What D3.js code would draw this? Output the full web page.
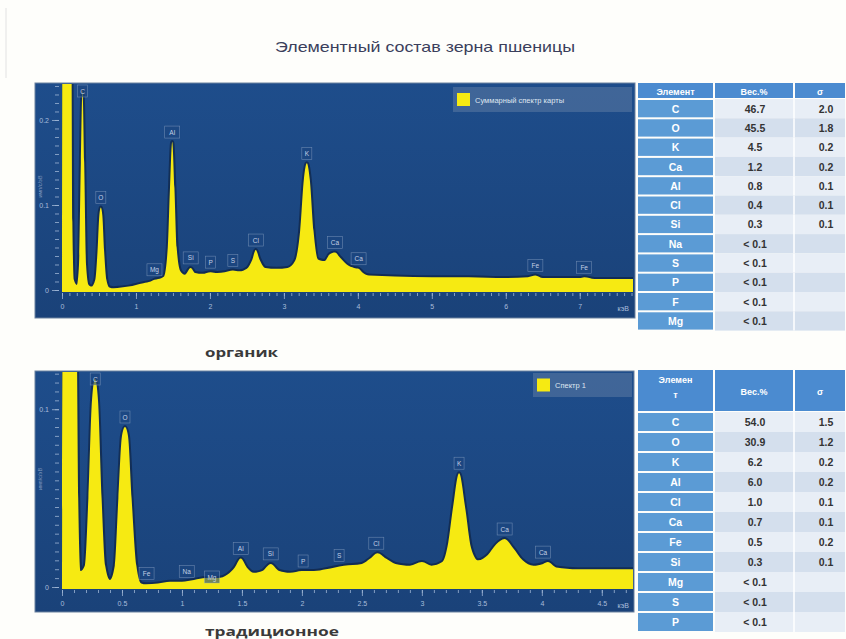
<!DOCTYPE html>
<html><head><meta charset="utf-8">
<script src="https://cdn.jsdelivr.net/npm/d3@7"></script>
<style>
html,body{margin:0;padding:0;background:#fefefb;}
svg{display:block;}
</style></head>
<body><svg id="c" width="846" height="639"></svg>
<script>
// ---------- DATA ----------
const chartTitle = "Элементный состав зерна пшеницы";
const panelCaptions = ["органик", "традиционное"];
const legendNames = ["Суммарный спектр карты", "Спектр 1"];
const axisUnit = "кэВ";
const yAxisName = "имп/с/эВ";

// organic spectrum: [energy keV, intensity]
const organicSpectrum = [
 [0.00,0],[0.005,0.30],[0.125,0.30],[0.14,0.08],[0.16,0.012],[0.20,0.006],[0.23,0.03],[0.255,0.15],[0.277,0.235],
 [0.30,0.15],[0.325,0.03],[0.36,0.006],[0.40,0.004],[0.45,0.012],[0.48,0.045],[0.505,0.088],[0.525,0.097],
 [0.545,0.088],[0.57,0.045],[0.60,0.012],[0.64,0.003],[0.70,0.002],[0.80,0.003],[0.90,0.004],[1.00,0.006],
 [1.10,0.008],[1.20,0.010],[1.25,0.012],[1.30,0.013],[1.38,0.016],[1.43,0.05],[1.46,0.12],[1.49,0.174],
 [1.52,0.12],[1.55,0.05],[1.60,0.022],[1.66,0.018],[1.74,0.026],[1.80,0.020],[1.90,0.019],[2.01,0.021],
 [2.10,0.020],[2.20,0.021],[2.31,0.023],[2.40,0.022],[2.50,0.025],[2.57,0.035],[2.62,0.047],[2.67,0.036],
 [2.75,0.026],[2.90,0.025],[3.05,0.026],[3.15,0.034],[3.22,0.07],[3.27,0.13],[3.31,0.149],[3.35,0.13],
 [3.40,0.07],[3.46,0.036],[3.55,0.034],[3.62,0.042],[3.69,0.044],[3.76,0.038],[3.85,0.030],[3.95,0.026],
 [4.01,0.025],[4.07,0.020],[4.15,0.017],[4.50,0.016],[5.00,0.015],[5.50,0.015],[6.00,0.014],[6.30,0.015],
 [6.40,0.017],[6.50,0.014],[7.00,0.014],[7.06,0.015],[7.20,0.013],[7.72,0.013]
];
const organicLabels = ["C","O","Mg","Al","Si","P","S","Cl","K","Ca","Ca","Fe","Fe"];
const organicLabelEnergies = [0.277,0.525,1.25,1.49,1.74,2.01,2.31,2.62,3.31,3.69,4.01,6.40,7.06];
const organicXTicks = [0,1,2,3,4,5,6,7];
const organicYTicks = [0,0.1,0.2];

// traditional spectrum
const traditionalSpectrum = [
 [0.00,0],[0.005,0.15],[0.12,0.15],[0.135,0.05],[0.155,0.009],[0.19,0.012],[0.22,0.05],[0.25,0.105],[0.275,0.117],
 [0.30,0.105],[0.33,0.05],[0.36,0.012],[0.40,0.004],[0.44,0.012],[0.47,0.05],[0.50,0.085],[0.525,0.090],
 [0.55,0.085],[0.58,0.05],[0.62,0.012],[0.66,0.002],[0.70,0.0015],[0.80,0.002],[0.90,0.003],[1.00,0.003],
 [1.10,0.004],[1.20,0.005],[1.30,0.005],[1.38,0.007],[1.44,0.011],[1.49,0.016],[1.54,0.011],[1.60,0.008],
 [1.67,0.009],[1.74,0.013],[1.81,0.009],[1.90,0.008],[2.00,0.009],[2.10,0.009],[2.20,0.010],[2.35,0.012],
 [2.50,0.013],[2.57,0.016],[2.63,0.019],[2.70,0.016],[2.78,0.013],[2.90,0.012],[3.00,0.014],[3.08,0.012],
 [3.17,0.014],[3.22,0.025],[3.26,0.045],[3.31,0.064],[3.36,0.045],[3.41,0.022],[3.47,0.015],[3.55,0.018],
 [3.62,0.024],[3.69,0.027],[3.76,0.022],[3.84,0.015],[3.93,0.012],[4.01,0.013],[4.05,0.014],[4.12,0.011],
 [4.30,0.010],[4.50,0.010],[4.76,0.010]
];
const traditionalLabels = ["C","O","Fe","Na","Mg","Al","Si","P","S","Cl","K","Ca","Ca"];
const traditionalLabelEnergies = [0.277,0.525,0.705,1.04,1.25,1.49,1.74,2.01,2.31,2.62,3.31,3.69,4.01];
const traditionalXTicks = [0,0.5,1,1.5,2,2.5,3,3.5,4,4.5];
const traditionalYTicks = [0,0.1];

// tables
const tableHeaders = ["Элемент","Вес.%","σ"];
const organicElements = ["C","O","K","Ca","Al","Cl","Si","Na","S","P","F","Mg"];
const organicWeights = ["46.7","45.5","4.5","1.2","0.8","0.4","0.3","< 0.1","< 0.1","< 0.1","< 0.1","< 0.1"];
const organicSigma = ["2.0","1.8","0.2","0.2","0.1","0.1","0.1","","","","",""];
const traditionalElements = ["C","O","K","Al","Cl","Ca","Fe","Si","Mg","S","P"];
const traditionalWeights = ["54.0","30.9","6.2","6.0","1.0","0.7","0.5","0.3","< 0.1","< 0.1","< 0.1"];
const traditionalSigma = ["1.5","1.2","0.2","0.2","0.1","0.1","0.2","0.1","","",""];

// ---------- DRAW ----------
const svg = d3.select("#c");
const defs = svg.append("defs");

svg.append("line").attr("x1",6).attr("x2",6).attr("y1",8).attr("y2",78)
  .attr("stroke","#e2e2e2").attr("stroke-width",1);

svg.append("text").attr("x",425).attr("y",52).attr("text-anchor","middle")
  .attr("font-family","'Liberation Sans Narrow','Liberation Sans',Arial,sans-serif")
  .attr("font-size",14.5).attr("fill","#3b3f5c")
  .attr("textLength",300).attr("lengthAdjust","spacingAndGlyphs").text(chartTitle);

const bgGrad = defs.append("linearGradient").attr("id","bg").attr("x1",0).attr("x2",0).attr("y1",0).attr("y2",1);
bgGrad.append("stop").attr("offset","0%").attr("stop-color","#1e4d8b");
bgGrad.append("stop").attr("offset","100%").attr("stop-color","#1a4279");

function drawPanel(cfg, idx){
  const g = svg.append("g");
  g.append("rect").attr("x",cfg.left).attr("y",cfg.top).attr("width",cfg.right-cfg.left).attr("height",cfg.bottom-cfg.top)
    .attr("fill","url(#bg)").attr("stroke","#6b819f").attr("stroke-width",1);
  const x = d3.scaleLinear().domain(cfg.xDomain).range([cfg.x0, cfg.x1]);
  const y = d3.scaleLinear().domain(cfg.yDomain).range([cfg.y0, cfg.top]);
  const clipId = "clip"+idx;
  defs.append("clipPath").attr("id",clipId).append("rect")
    .attr("x",cfg.x0).attr("y",cfg.top+1).attr("width",cfg.x1-cfg.x0).attr("height",cfg.y0+2-cfg.top-1);
  const area = d3.area().x(d=>x(d[0])).y0(cfg.y0+2).y1(d=>y(d[1])).curve(d3.curveMonotoneX);
  const line = d3.line().x(d=>x(d[0])).y(d=>y(d[1])).curve(d3.curveMonotoneX);
  const pg = g.append("g").attr("clip-path",`url(#${clipId})`);
  pg.append("path").datum(cfg.data).attr("d",line).attr("fill","none")
    .attr("stroke","#0b1a33").attr("stroke-width",4).attr("stroke-opacity",0.55).attr("stroke-linejoin","round");
  pg.append("path").datum(cfg.data).attr("d",area).attr("fill","#f6ea12");

  // x axis
  const tickCol = "#9fb5d5";
  const minor = d3.range(cfg.xDomain[0], cfg.xDomain[1]+1e-9, 0.1).map(v=>+v.toFixed(2));
  const axMinor = g.append("g").attr("transform",`translate(0,${cfg.y0+3})`)
    .call(d3.axisBottom(x).tickValues(minor).tickSize(3).tickFormat(""));
  const axMajor = g.append("g").attr("transform",`translate(0,${cfg.y0+3})`)
    .call(d3.axisBottom(x).tickValues(cfg.xTicks).tickSize(6).tickPadding(5).tickFormat(d=>String(d)));
  [axMinor,axMajor].forEach(a=>{
    a.select(".domain").remove();
    a.selectAll("line").attr("stroke",tickCol).attr("stroke-opacity",0.8);
    a.selectAll("text").attr("fill","#a9bddb").attr("font-size",7).attr("font-family","'Liberation Sans',Arial,sans-serif");
  });
  g.append("text").attr("x",cfg.x1-4).attr("y",cfg.y0+21).attr("text-anchor","end")
    .attr("fill","#a9bddb").attr("font-size",7).attr("font-family","'Liberation Sans',Arial,sans-serif").text(axisUnit);

  // y axis
  const yMinor = d3.range(0, cfg.yDomain[1], cfg.yMinorStep).map(v=>+v.toFixed(4));
  const ayMinor = g.append("g").attr("transform",`translate(${cfg.x0-3},0)`)
    .call(d3.axisLeft(y).tickValues(yMinor).tickSize(4).tickFormat(""));
  const ayMajor = g.append("g").attr("transform",`translate(${cfg.x0-3},0)`)
    .call(d3.axisLeft(y).tickValues(cfg.yTicks).tickSize(7).tickPadding(3).tickFormat(d=>String(d)));
  [ayMinor,ayMajor].forEach(a=>{
    a.select(".domain").remove();
    a.selectAll("line").attr("stroke",tickCol).attr("stroke-opacity",0.8);
    a.selectAll("text").attr("fill","#a9bddb").attr("font-size",7).attr("font-family","'Liberation Sans',Arial,sans-serif");
  });
  const midY = (cfg.top+cfg.y0)/2;
  g.append("text").attr("transform",`translate(42,${midY}) rotate(-90)`).attr("text-anchor","middle")
    .attr("fill","#7f98be").attr("font-size",5.5).attr("font-family","'Liberation Sans',Arial,sans-serif").text(yAxisName);

  // peak labels
  cfg.labels.forEach((lab,i)=>{
    const e = cfg.labelEnergies[i];
    const near = cfg.data.filter(d=>Math.abs(d[0]-e)<=0.05);
    const vmax = d3.max(near,d=>d[1]) || 0;
    const cx = x(e);
    const w = lab.length*5+5, h = 12;
    let by = y(vmax) - 4;
    if (by - h < cfg.top + 2) by = cfg.top + 2 + h;
    g.append("rect").attr("x",cx-w/2).attr("y",by-h).attr("width",w).attr("height",h)
      .attr("fill","#1c4680").attr("fill-opacity",0.6).attr("stroke","#9fb2cf").attr("stroke-opacity",0.6).attr("stroke-width",0.6);
    g.append("text").attr("x",cx).attr("y",by-3.5).attr("text-anchor","middle")
      .attr("fill","#c3d0e5").attr("font-size",6.5).attr("font-family","'Liberation Sans',Arial,sans-serif").text(lab);
  });

  // legend
  const lg = cfg.legend;
  g.append("rect").attr("x",lg.x).attr("y",lg.y).attr("width",lg.w).attr("height",lg.h)
    .attr("fill","#6a84a8").attr("fill-opacity",0.45);
  g.append("rect").attr("x",lg.x+4).attr("y",lg.y+(lg.h-13)/2).attr("width",13).attr("height",13).attr("fill","#f6ea12");
  g.append("text").attr("x",lg.x+22).attr("y",lg.y+lg.h/2+3).attr("fill","#dfe6f0")
    .attr("font-size",7.5).attr("font-family","'Liberation Sans',Arial,sans-serif").text(lg.text);

  svg.append("text").attr("x",cfg.captionX).attr("y",cfg.captionY)
    .attr("font-family","'Open Sans','DejaVu Sans',sans-serif").attr("font-weight","bold")
    .attr("font-size",13).attr("fill","#3a3a3a")
    .attr("textLength",cfg.captionW).attr("lengthAdjust","spacingAndGlyphs").text(cfg.caption);
}

drawPanel({left:35,right:635,top:83,bottom:318,x0:62,x1:633,y0:290,
  xDomain:[0,7.72],yDomain:[0,0.2435],yMinorStep:0.01,data:organicSpectrum,
  xTicks:organicXTicks,yTicks:organicYTicks,labels:organicLabels,labelEnergies:organicLabelEnergies,
  legend:{x:453,y:87,w:179,h:25,text:legendNames[0]},caption:panelCaptions[0],captionX:205,captionY:357,captionW:73},0);

drawPanel({left:35,right:634,top:371,bottom:612,x0:62,x1:633,y0:587,
  xDomain:[0,4.76],yDomain:[0,0.1215],yMinorStep:0.005,data:traditionalSpectrum,
  xTicks:traditionalXTicks,yTicks:traditionalYTicks,labels:traditionalLabels,labelEnergies:traditionalLabelEnergies,
  legend:{x:533,y:373,w:99,h:24,text:legendNames[1]},caption:panelCaptions[1],captionX:205,captionY:636,captionW:134},1);

function drawTable(t){
  const g = svg.append("g");
  const cols = t.cols;
  const xs = [t.x]; cols.forEach(c=>xs.push(xs[xs.length-1]+c));
  const font = "'Liberation Sans',Arial,sans-serif";
  tableHeaders.forEach((h,j)=>{
    g.append("rect").attr("x",xs[j]+1).attr("y",t.y).attr("width",cols[j]-2).attr("height",t.headerH-1).attr("fill","#4b8bd0");
    const lines = (j===0 && t.headerLines) ? t.headerLines : [h];
    lines.forEach((ln,k)=>{
      g.append("text").attr("x",xs[j]+cols[j]/2).attr("y",t.y + (lines.length===1? t.headerH/2+3.5 : 13+k*15))
        .attr("text-anchor","middle").attr("fill","#ffffff").attr("font-size",9).attr("font-weight","bold")
        .attr("font-family",font).text(ln);
    });
  });
  t.elements.forEach((el,i)=>{
    const ry = t.y + t.headerH + i*t.rowH;
    g.append("rect").attr("x",xs[0]+1).attr("y",ry+1).attr("width",cols[0]-2).attr("height",t.rowH-2).attr("fill","#5b9bd5");
    const bg = i%2===0 ? "#e8eef6" : "#d4dfed";
    g.append("rect").attr("x",xs[1]+1).attr("y",ry).attr("width",cols[1]+cols[2]-2).attr("height",t.rowH).attr("fill",bg);
    g.append("line").attr("x1",xs[2]).attr("x2",xs[2]).attr("y1",ry).attr("y2",ry+t.rowH).attr("stroke","#ffffff").attr("stroke-width",1.5);
    g.append("text").attr("x",xs[0]+cols[0]/2).attr("y",ry+t.rowH/2+4).attr("text-anchor","middle")
      .attr("fill","#ffffff").attr("font-size",10.5).attr("font-weight","bold").attr("font-family",font).text(el);
    g.append("text").attr("x",xs[1]+cols[1]/2+1).attr("y",ry+t.rowH/2+4).attr("text-anchor","middle")
      .attr("fill","#333333").attr("font-size",10.5).attr("font-weight","bold").attr("font-family",font).text(t.weights[i]);
    g.append("text").attr("x",xs[2]+cols[2]/2+6).attr("y",ry+t.rowH/2+4).attr("text-anchor","middle")
      .attr("fill","#333333").attr("font-size",10.5).attr("font-weight","bold").attr("font-family",font).text(t.sigma[i]);
  });
}

drawTable({x:637,y:83,cols:[77,80,52],headerH:16,rowH:19.3,elements:organicElements,weights:organicWeights,sigma:organicSigma});
drawTable({x:637,y:370,cols:[77,80,52],headerH:42,rowH:20,elements:traditionalElements,weights:traditionalWeights,
  sigma:traditionalSigma,headerLines:["Элемен","т"]});
</script>
</body></html>
